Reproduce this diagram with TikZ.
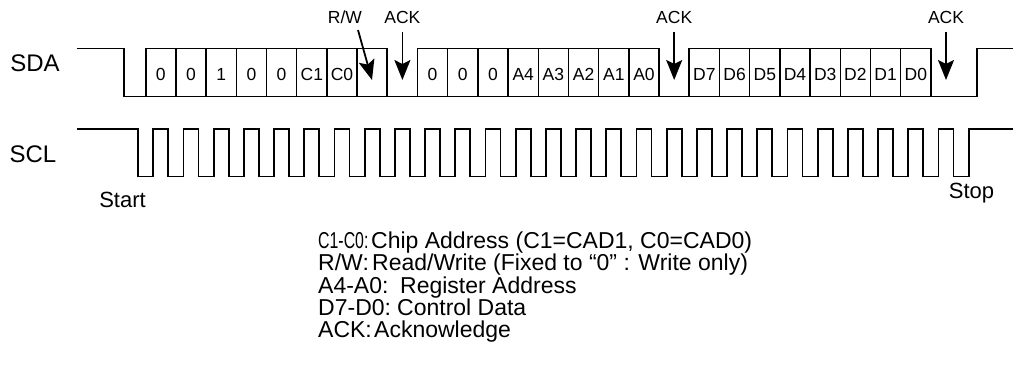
\documentclass[tikz,border=0pt]{standalone}
\usepackage{fontspec}
\setmainfont{Liberation Sans}
\usetikzlibrary{arrows.meta}
\begin{document}
\begin{tikzpicture}[x=1pt,y=-1pt,
  wave/.style={line width=1.8pt, line join=miter},
  divider/.style={line width=1.5pt},
  bitlbl/.style={font=\fontsize{17.5}{17.5}\selectfont, inner sep=0pt},
  smalllbl/.style={font=\fontsize{17.5}{17.5}\selectfont, inner sep=0pt},
  siglbl/.style={font=\fontsize{24}{24}\selectfont, inner sep=0pt},
  evlbl/.style={font=\fontsize{22}{22}\selectfont, inner sep=0pt},
  legend/.style={font=\fontsize{23}{23}\selectfont, inner sep=0pt, anchor=base west},
  ackarrow/.style={line width=1.8pt, -{Stealth[length=20pt,width=16pt,inset=4pt]}}]
\useasboundingbox (0,0) rectangle (1013,371);
\def\pp{30.2}
\def\xo{145.7}
\def\hi{48.5}
\def\lo{96.5}
\def\chi{129}
\def\clo{176.5}
% signal labels
\node[siglbl] (sda) at (35,63) {SDA};
\node[siglbl] (scl) at (33,154) {SCL};
\node[evlbl] (start) at (122.5,200) {Start};
\node[evlbl] (stop) at (971.5,193) {Stop};
% SDA waveform
\draw[wave] (77,\hi) -- (124,\hi) -- (124,\lo) -- (976.7,\lo) -- (976.7,\hi) -- (1013,\hi);
\foreach \a/\b in {0/8,9/17,18/26}{
  \draw[wave] ({\xo+\a*\pp},\lo) -- ({\xo+\a*\pp},\hi) -- ({\xo+\b*\pp},\hi) -- ({\xo+\b*\pp},\lo);
}
\foreach \k in {1,...,7,10,11,...,16,19,20,...,25}{
  \draw[divider] ({\xo+\k*\pp},\hi) -- ({\xo+\k*\pp},\lo);
}
% bit labels
\foreach \t [count=\i from 0] in {0,0,1,0,0,C1,C0}{
  \node[bitlbl] (b\i) at ({\xo+(\i+0.5)*\pp},74.5) {\t};
}
\foreach \t [count=\i from 9] in {0,0,0,A4,A3,A2,A1,A0}{
  \node[bitlbl] (b\i) at ({\xo+(\i+0.5)*\pp},74.5) {\t};
}
\foreach \t [count=\i from 18] in {D7,D6,D5,D4,D3,D2,D1,D0}{
  \node[bitlbl] (b\i) at ({\xo+(\i+0.5)*\pp},74.5) {\t};
}
% SCL waveform
\draw[wave] (77,\chi) -- ({\xo-0.25*\pp},\chi) -- ({\xo-0.25*\pp},\clo)
  \foreach \k in {0,...,26}{
    -- ({\xo+(\k+0.25)*\pp},\clo) -- ({\xo+(\k+0.25)*\pp},\chi)
    -- ({\xo+(\k+0.75)*\pp},\chi) -- ({\xo+(\k+0.75)*\pp},\clo)
  }
  -- ({\xo+27.25*\pp},\clo) -- ({\xo+27.25*\pp},\chi) -- (1013,\chi);
% arrows and labels
\node[smalllbl] (rw) at (345,17) {R/W};
\coordinate (rwtail) at (358,30);
\coordinate (rwtip) at (372,80);
\draw[ackarrow] (rwtail) -- (rwtip);
\foreach \n/\k in {1/8,2/17,3/26}{
  \node[smalllbl] (ack\n) at ({\xo+(\k+0.5)*\pp},17) {ACK};
  \coordinate (ack\n tail) at ({\xo+(\k+0.5)*\pp},32);
  \coordinate (ack\n tip) at ({\xo+(\k+0.5)*\pp},80);
  \draw[ackarrow] (ack\n tail) -- (ack\n tip);
}
% legend
\node[legend] (l1a) at (318,249) {\scalebox{0.69}[1]{C1-C0:}};
\node[legend] (l1b) at (371,249) {Chip Address (C1=CAD1, C0=CAD0)};
\node[legend] (l2a) at (318,271) {R/W:};
\node[legend] (l2b) at (372,271) {Read/Write (Fixed to “0” : Write only)};
\node[legend] (l3a) at (318,294) {A4-A0:};
\node[legend] (l3b) at (400,294) {Register Address};
\node[legend] (l4a) at (318,316) {D7-D0:};
\node[legend] (l4b) at (397,316) {Control Data};
\node[legend] (l5a) at (318,338) {ACK:};
\node[legend] (l5b) at (374,338) {Acknowledge};
\end{tikzpicture}
\end{document}
